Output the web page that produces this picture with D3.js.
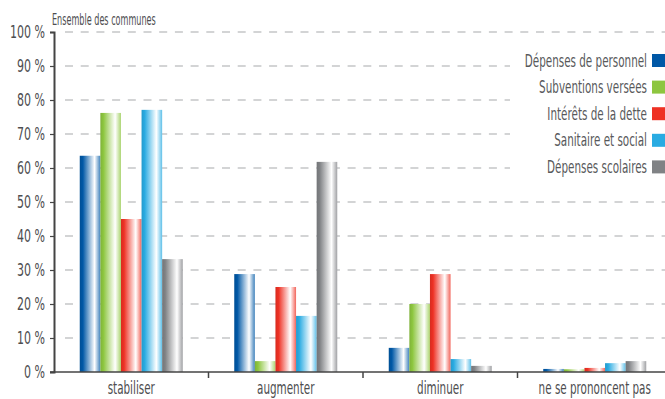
<!DOCTYPE html>
<html>
<head>
<meta charset="utf-8">
<script src="https://cdn.jsdelivr.net/npm/d3@7"></script>
<style>
  body { margin: 0; background: #fff; }
  svg { display: block; font-family: "Liberation Sans Narrow", "DejaVu Sans Condensed", sans-serif; }
</style>
</head>
<body>
<div id="chart"></div>
<script>
const categories = ['stabiliser', 'augmenter', 'diminuer', 'ne se prononcent pas'];
const seriesNames = ['Dépenses de personnel', 'Subventions versées', 'Intérêts de la dette', 'Sanitaire et social', 'Dépenses scolaires'];
const seriesColors = ['#0058a6', '#8dc63f', '#ee3124', '#29abe2', '#808285'];
const personnel = [63.6, 28.8, 7.1, 0.9];
const subventions = [76.2, 3.2, 20.0, 0.8];
const interets = [45.0, 25.0, 28.8, 1.2];
const sanitaire = [77.1, 16.5, 3.8, 2.6];
const scolaires = [33.2, 61.8, 1.8, 3.2];
const yTicks = [0, 10, 20, 30, 40, 50, 60, 70, 80, 90, 100];

const values = [personnel, subventions, interets, sanitaire, scolaires];
const width = 665, height = 399;
const margin = { top: 32, right: -7, bottom: 27, left: 54 };
const textColor = '#4d4d4f';
const fontStack = '"Liberation Sans Narrow", "DejaVu Sans Condensed", sans-serif';

const svg = d3.select('#chart')
  .append('svg')
  .attr('width', width)
  .attr('height', height);

// the reference uses a narrow DIN-like face: squeeze glyphs horizontally
// around each text's own anchor x
function narrow(k) {
  return sel => sel.each(function() {
    const ax = +(this.getAttribute('x') || 0);
    d3.select(this).attr('transform', `translate(${ax * (1 - k)},0) scale(${k},1)`);
  });
}

const defs = svg.append('defs');
seriesColors.forEach((c, i) => {
  const g = defs.append('linearGradient')
    .attr('id', 'grad' + i)
    .attr('x1', 0).attr('x2', 1).attr('y1', 0).attr('y2', 0);
  const dark = d3.color(c).darker(0.3);
  g.append('stop').attr('offset', 0).attr('stop-color', dark);
  g.append('stop').attr('offset', 0.15).attr('stop-color', c);
  g.append('stop').attr('offset', 0.72).attr('stop-color', '#fff');
  g.append('stop').attr('offset', 1).attr('stop-color', d3.interpolateRgb(c, '#fff')(0.25));
});

const x0 = d3.scaleBand()
  .domain(categories)
  .range([margin.left, width - margin.right])
  .paddingInner(0)
  .paddingOuter(0);

const groupWidth = 103;
const x1 = d3.scaleBand()
  .domain(d3.range(seriesNames.length))
  .range([0, groupWidth]);

const y = d3.scaleLinear()
  .domain([0, 100])
  .range([height - margin.bottom, margin.top]);

// title
svg.append('text')
  .attr('x', 52)
  .attr('y', 25)
  .attr('fill', textColor)
  .style('font-size', '15px')
  .text('Ensemble des communes')
  .call(narrow(0.6));

// grid lines
svg.append('g')
  .selectAll('line')
  .data(yTicks.filter(d => d > 0))
  .join('line')
  .attr('x1', 65)
  .attr('x2', width)
  .attr('y1', d => y(d))
  .attr('y2', d => y(d))
  .attr('stroke', '#a7a9ac')
  .attr('stroke-width', 1.2)
  .attr('stroke-dasharray', '8 7.7');

// bars
const groups = svg.append('g')
  .selectAll('g')
  .data(categories)
  .join('g')
  .attr('transform', d => `translate(${x0(d) + (x0.bandwidth() - groupWidth) / 2},0)`);

groups.selectAll('rect')
  .data((d, ci) => values.map((s, si) => ({ si, v: s[ci] })))
  .join('rect')
  .attr('x', d => x1(d.si))
  .attr('width', x1.bandwidth())
  .attr('y', d => y(d.v))
  .attr('height', d => y(0) - y(d.v))
  .attr('fill', d => `url(#grad${d.si})`);

// y axis
const yAxis = svg.append('g')
  .attr('transform', `translate(${margin.left},0)`)
  .call(d3.axisLeft(y).tickValues(yTicks).tickSize(4).tickPadding(5).tickFormat(d => d + ' %'));
yAxis.select('.domain').attr('stroke', '#444').attr('stroke-width', 2);
yAxis.selectAll('.tick line').attr('stroke', '#444').attr('stroke-width', 1.2);
yAxis.selectAll('.tick text')
  .attr('fill', textColor)
  .style('font-size', '17.5px')
  .style('font-family', fontStack)
  .call(narrow(0.7));

// x axis
const xAxis = svg.append('g')
  .attr('transform', `translate(0,${y(0)})`)
  .call(d3.axisBottom(x0).tickSize(0).tickPadding(10));
xAxis.select('.domain').remove();
xAxis.append('line')
  .attr('x1', 50).attr('x2', width)
  .attr('stroke', '#444').attr('stroke-width', 1.5);
xAxis.selectAll('.boundary')
  .data(categories.slice(1))
  .join('line')
  .attr('class', 'boundary')
  .attr('x1', d => x0(d)).attr('x2', d => x0(d))
  .attr('y1', 0).attr('y2', 6)
  .attr('stroke', '#444').attr('stroke-width', 1.5);
xAxis.selectAll('.tick text')
  .attr('fill', textColor)
  .style('font-size', '17px')
  .style('font-family', fontStack)
  .call(narrow(0.68));

// legend, on a white panel that hides the grid behind it
svg.append('rect')
  .attr('x', 510).attr('y', 40)
  .attr('width', width - 510).attr('height', 150)
  .attr('fill', '#fff');
const legend = svg.append('g')
  .selectAll('g')
  .data(seriesNames)
  .join('g')
  .attr('transform', (d, i) => `translate(652,${60.5 + i * 26.6})`);
legend.append('rect')
  .attr('x', 0).attr('y', -6.5)
  .attr('width', 13).attr('height', 13)
  .attr('fill', (d, i) => seriesColors[i]);
legend.append('text')
  .attr('x', -5)
  .attr('y', 0)
  .attr('dy', '0.36em')
  .attr('text-anchor', 'end')
  .attr('fill', '#58595b')
  .style('font-size', '17px')
  .text(d => d)
  .call(narrow(0.68));
</script>
</body>
</html>
